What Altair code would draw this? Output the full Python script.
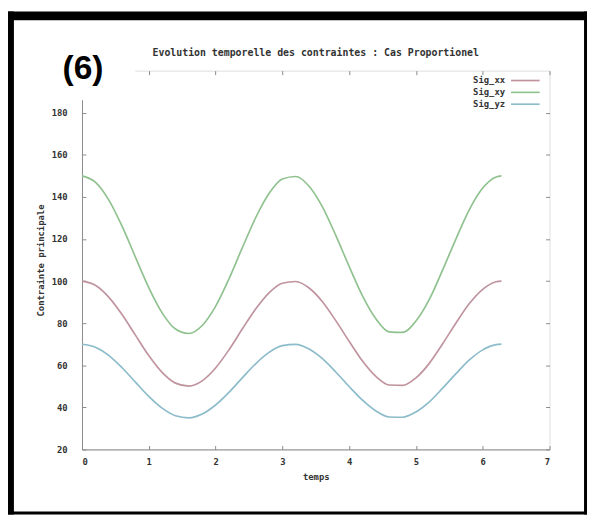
import altair as alt
import pandas as pd

# ---- data ----
temps = [0.0, 0.2, 0.4, 0.6, 0.8, 1.0, 1.2, 1.4, 1.6, 1.8, 2.0, 2.2, 2.4, 2.6, 2.8, 3.0,
         3.2, 3.4, 3.6, 3.8, 4.0, 4.2, 4.4, 4.6, 4.8, 5.0, 5.2, 5.4, 5.6, 5.8, 6.0, 6.2, 6.28]
sig_xx = [100, 98.0, 92.4, 84.1, 74.3, 64.6, 56.6, 51.5, 50.1, 52.6, 58.7, 67.3, 77.2, 86.7,
          94.4, 99.0, 99.8, 96.7, 90.2, 81.2, 71.4, 62.0, 54.7, 50.6, 50.4, 54.0, 60.9, 70.2,
          80.1, 89.3, 96.1, 99.7, 100]
sig_xy = [150, 147.0, 138.6, 126.1, 111.4, 96.9, 84.9, 77.2, 75.1, 78.9, 88.0, 101.0, 115.8,
          130.1, 141.6, 148.5, 149.7, 145.1, 135.3, 121.7, 107.0, 93.0, 82.1, 75.9, 75.6, 81.0,
          91.3, 105.3, 120.1, 134.0, 144.2, 149.5, 150]
sig_yz = [70, 68.6, 64.7, 58.8, 52.0, 45.2, 39.6, 36.0, 35.0, 36.8, 41.1, 47.1, 54.0, 60.7,
          66.1, 69.3, 69.9, 67.7, 63.1, 56.8, 49.9, 43.4, 38.3, 35.4, 35.3, 37.8, 42.6, 49.1,
          56.0, 62.5, 67.3, 69.8, 70]
series_names = ["Sig_xx", "Sig_xy", "Sig_yz"]
x_ticks = [0, 1, 2, 3, 4, 5, 6, 7]
y_ticks = [20, 40, 60, 80, 100, 120, 140, 160, 180]
title_text = "Evolution temporelle des contraintes : Cas Proportionel"
panel_label = "(6)"

colors = ["#c0949e", "#90c290", "#8cbcca"]
FONT = "DejaVu Sans Mono"
TXT = "#333333"
AX = "#8a8a8a"
W, H = 474, 384

rows = []
for name, vals in zip(series_names, [sig_xx, sig_xy, sig_yz]):
    for tt, v in zip(temps, vals):
        rows.append({"temps": tt, "val": v, "serie": name})
df = pd.DataFrame(rows)

x_scale = alt.Scale(domain=[0, 7], nice=False, zero=False)
y_scale = alt.Scale(domain=[20, 200], nice=False, zero=False)

axis_style = dict(grid=False, domainColor=AX, ticks=False, tickSize=0,
                  labelFont=FONT, labelFontSize=9, labelFontWeight="bold", labelColor=TXT,
                  titleFont=FONT, titleFontSize=9, titleFontWeight="bold", titleColor=TXT)

lines = alt.Chart(df).mark_line(strokeWidth=1.7, clip=True, interpolate="monotone").encode(
    x=alt.X("temps:Q", scale=x_scale,
            axis=alt.Axis(title="temps", values=x_ticks, labelPadding=8,
                          titlePadding=7, format="d", **axis_style)),
    y=alt.Y("val:Q", scale=y_scale,
            axis=alt.Axis(title="Contrainte principale", values=y_ticks,
                          labelPadding=15, titlePadding=6, format="d", **axis_style)),
    color=alt.Color("serie:N", scale=alt.Scale(domain=series_names, range=colors), legend=None),
)

tick_style = dict(title=None, labels=False, domain=False, grid=False, tickSize=4,
                  tickColor=AX)

# inward ticks on the top and right edges
mirror1 = alt.Chart(df).mark_line(opacity=0).encode(
    x=alt.X("temps:Q", scale=x_scale,
            axis=alt.Axis(orient="bottom", offset=-H, values=x_ticks, **tick_style)),
    y=alt.Y("val:Q", scale=y_scale,
            axis=alt.Axis(orient="left", offset=-W, values=y_ticks, **tick_style)),
)
# inward ticks on the bottom and left edges
mirror2 = alt.Chart(df).mark_line(opacity=0).encode(
    x=alt.X("temps:Q", scale=x_scale,
            axis=alt.Axis(orient="top", offset=-H, values=x_ticks, **tick_style)),
    y=alt.Y("val:Q", scale=y_scale,
            axis=alt.Axis(orient="right", offset=-W, values=y_ticks, **tick_style)),
)

one = pd.DataFrame({"a": [0]})

# white box behind the panel label
box = alt.Chart(one).mark_rect(color="white").encode(
    x=alt.value(-43), x2=alt.value(54), y=alt.value(-38), y2=alt.value(30))

label6 = alt.Chart(pd.DataFrame({"t": [panel_label]})).mark_text(
    font="Liberation Sans", fontWeight="bold", fontSize=34, color="black",
    align="center", baseline="middle").encode(
    text="t:N", x=alt.value(1), y=alt.value(-2))

title_mark = alt.Chart(pd.DataFrame({"t": [title_text]})).mark_text(
    font=FONT, fontWeight="bold", fontSize=10, color=TXT,
    align="center", baseline="middle").encode(
    text="t:N", x=alt.value(237), y=alt.value(-18))

# thick black frame round the picture (left, top, right, bottom bands)
frame_bands = [(-76, -69, -60, 450), (-76, 512, -60, -51), (509, 512, -60, 450), (-76, 512, 447, 450)]
border_layers = [
    alt.Chart(one).mark_rect(color="black").encode(
        x=alt.value(a), x2=alt.value(b), y=alt.value(c), y2=alt.value(d))
    for a, b, c, d in frame_bands
]

legend_layers = []
for i, (name, col) in enumerate(zip(series_names, colors)):
    yy = 10 + 12 * i
    legend_layers.append(
        alt.Chart(pd.DataFrame({"t": [name]})).mark_text(
            font=FONT, fontWeight="bold", fontSize=9, color=TXT,
            align="right", baseline="middle").encode(
            text="t:N", x=alt.value(429), y=alt.value(yy)))
    legend_layers.append(
        alt.Chart(one).mark_rule(color=col, strokeWidth=1.7).encode(
            x=alt.value(435), x2=alt.value(464), y=alt.value(yy)))

chart = alt.layer(lines, mirror1, mirror2, box, label6, title_mark,
                  *legend_layers, *border_layers).resolve_axis(
    x="independent", y="independent"
).properties(
    width=W, height=H,
    autosize=alt.AutoSizeParams(type="none"),
    padding={"left": 75, "top": 60, "right": 38, "bottom": 66},
).configure_view(
    stroke=AX, strokeWidth=1
).configure_axis(
    grid=False
).configure(background="white")

chart.save("out.html", embed_options={"renderer": "svg", "actions": False})
